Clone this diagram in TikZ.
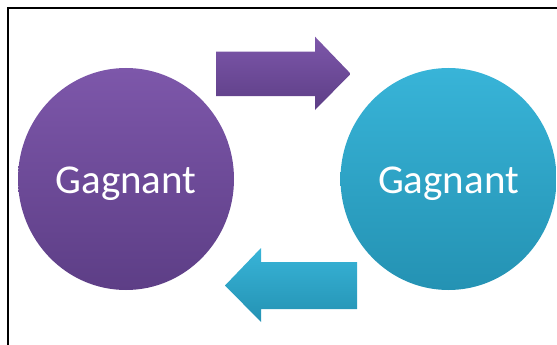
\documentclass[tikz,border=0pt]{standalone}
\usepackage{fontspec}
\setmainfont{Carlito}
\usetikzlibrary{shapes.geometric}
\definecolor{violetH}{HTML}{7D57AA}
\definecolor{violetB}{HTML}{5D3E86}
\definecolor{cyanH}{HTML}{38B4D8}
\definecolor{cyanB}{HTML}{2492B3}
\begin{document}
\begin{tikzpicture}[x=1pt,y=-1pt,
                cercle/.style={ellipse,minimum width=216pt,minimum height=222pt,inner sep=0pt},
                mot/.style={anchor=base,text=white,font=\fontsize{41}{48}\selectfont}]
                \useasboundingbox (0,0) rectangle (557,345);
                \draw[line width=2pt] (557,8) -- (7.5,8) -- (7.5,345);
                \node[cercle,top color=violetH,bottom color=violetB] (g1) at (126,179) {};
                \node[cercle,top color=cyanH,bottom color=cyanB] (g2) at (448.5,179) {};
                \node[mot] (t1) at ([yshift=-14pt]g1.center) {Gagnant};
                \node[mot] (t2) at ([yshift=-14pt]g2.center) {Gagnant};
                \shade[top color=violetH,bottom color=violetB] (216,51.7) -- (315,51.7) -- (315,36.7) -- (350.7,73.8) -- (315,110) -- (315,96) -- (216,96) -- cycle;
                \shade[top color=cyanH,bottom color=cyanB] (357,262) -- (261,262) -- (261,248) -- (225,285.5) -- (261,322) -- (261,309) -- (357,309) -- cycle;
        \end{tikzpicture}
\end{document}
